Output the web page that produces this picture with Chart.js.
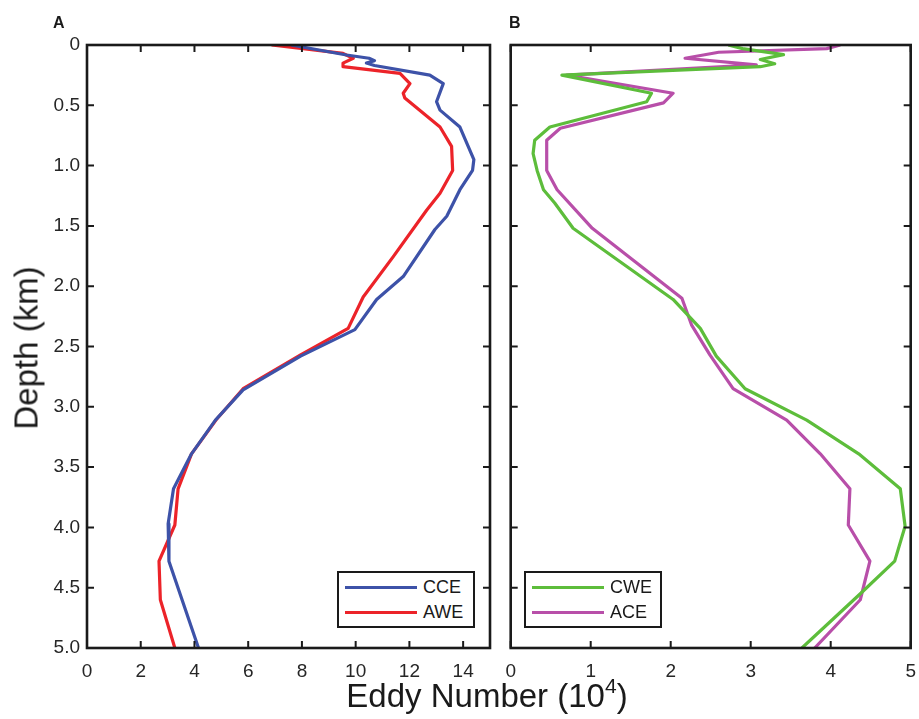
<!DOCTYPE html>
<html>
<head>
<meta charset="utf-8">
<title>Eddy number vs depth</title>
<script src="https://cdn.jsdelivr.net/npm/chart.js@4.4.1/dist/chart.umd.min.js"></script>
<style>
  html, body { margin: 0; padding: 0; background: #fff; }
  #wrap {
    position: relative; width: 919px; height: 719px; overflow: hidden;
    font-family: "Liberation Sans", Arial, sans-serif; color: #1a1a1a;
  }
  canvas { position: absolute; top: 0; }
  #chartA { left: 0; }
  #chartB { left: 500px; }
  .tag { position: absolute; top: 15px; font-size: 16px; font-weight: bold; line-height: 1; }
  .title { position: absolute; font-size: 33px; line-height: 1; white-space: nowrap; }
  .title sup { font-size: 21px; vertical-align: 0; position: relative; top: -14px; }
  #ytitle { left: 26px; top: 348px; transform: translate(-50%, -50%) rotate(-90deg); }
  #xtitle { left: 487px; top: 679px; transform: translateX(-50%); }
  .legend {
    position: absolute; top: 571px; width: 138px; height: 57px;
    box-sizing: border-box; border: 2px solid #1a1a1a; background: #fff;
  }
  .legend .row {
    position: absolute; left: 6px; height: 20px; display: flex; align-items: center;
    font-size: 18px; line-height: 1;
  }
  .legend .swatch { display: inline-block; width: 72px; height: 3px; margin-right: 6px; }
</style>
</head>
<body>
<div id="wrap">
  <canvas id="chartA" width="500" height="719"></canvas>
  <canvas id="chartB" width="419" height="719"></canvas>
  <div class="tag" style="left:53px">A</div>
  <div class="tag" style="left:509px">B</div>
  <div class="title" id="ytitle">Depth (km)</div>
  <div class="title" id="xtitle">Eddy Number (10<sup>4</sup>)</div>
  <div class="legend" id="legendA" style="left:337px"></div>
  <div class="legend" id="legendB" style="left:524px"></div>
</div>

<script>
// Eddy number (10^4) against depth (km)

// Panel A
const cceDepth = [0, 0.083, 0.11, 0.13, 0.15, 0.17, 0.25, 0.32, 0.47, 0.54, 0.68, 0.95, 1.04, 1.2, 1.42, 1.53, 1.92, 2.11, 2.36, 2.58, 2.86, 3.11, 3.39, 3.68, 3.97, 4.28, 5.0];
const cceNum   = [7.6, 9.66, 10.5, 10.7, 10.4, 10.7, 12.76, 13.26, 13.01, 13.14, 13.88, 14.4, 14.35, 13.88, 13.39, 12.95, 11.77, 10.78, 9.97, 7.95, 5.81, 4.78, 3.89, 3.22, 3.02, 3.05, 4.15];

const aweDepth = [0, 0.07, 0.11, 0.15, 0.18, 0.235, 0.32, 0.40, 0.44, 0.68, 0.84, 1.04, 1.23, 1.37, 1.755, 2.09, 2.35, 2.57, 2.85, 3.11, 3.39, 3.68, 3.98, 4.28, 4.60, 5.0];
const aweNum   = [6.87, 9.53, 9.91, 9.53, 9.53, 11.65, 12.02, 11.77, 11.83, 13.14, 13.57, 13.61, 13.14, 12.64, 11.40, 10.28, 9.72, 7.95, 5.81, 4.80, 3.89, 3.39, 3.27, 2.68, 2.73, 3.27];

// Panel B
const cweDepth = [0, 0.03, 0.08, 0.12, 0.155, 0.18, 0.25, 0.40, 0.47, 0.68, 0.79, 0.90, 1.04, 1.20, 1.31, 1.52, 2.11, 2.35, 2.58, 2.85, 3.11, 3.39, 3.68, 3.99, 4.28, 4.55, 5.0];
const cweNum   = [2.72, 2.9, 3.41, 3.12, 3.30, 3.12, 0.64, 1.76, 1.70, 0.49, 0.30, 0.28, 0.33, 0.41, 0.55, 0.78, 2.03, 2.37, 2.57, 2.93, 3.70, 4.35, 4.87, 4.93, 4.80, 4.37, 3.64];

const aceDepth = [0, 0.03, 0.06, 0.11, 0.165, 0.25, 0.40, 0.48, 0.69, 0.79, 1.04, 1.20, 1.52, 2.10, 2.32, 2.57, 2.85, 3.11, 3.39, 3.68, 3.98, 4.28, 4.60, 5.0];
const aceNum   = [4.12, 3.95, 2.6, 2.18, 3.07, 0.70, 2.03, 1.91, 0.62, 0.45, 0.45, 0.58, 1.02, 2.14, 2.26, 2.49, 2.78, 3.45, 3.87, 4.24, 4.22, 4.49, 4.37, 3.80];

// ticks
const depthTicks = [0, 0.5, 1, 1.5, 2, 2.5, 3, 3.5, 4, 4.5, 5];
const xTicksA = [0, 2, 4, 6, 8, 10, 12, 14];
const xTicksB = [0, 1, 2, 3, 4, 5];

const seriesA = [
    { name: 'CCE', color: '#3d52a8', depth: cceDepth, num: cceNum },
    { name: 'AWE', color: '#ec2329', depth: aweDepth, num: aweNum }
];
const seriesB = [
    { name: 'CWE', color: '#5dbd3b', depth: cweDepth, num: cweNum },
    { name: 'ACE', color: '#b84fa9', depth: aceDepth, num: aceNum }
];

const FONT = '"Liberation Sans", Arial, sans-serif';
const INK = '#1a1a1a';

// box around the axes with inward ticks on all four sides
const framePlugin = {
    id: 'frame',
    afterDatasetsDraw(chart) {
        const { ctx, chartArea: a, scales } = chart;
        const len = 7;
        ctx.save();
        ctx.strokeStyle = INK;
        ctx.lineWidth = 2;
        ctx.beginPath();
        scales.x.ticks.forEach(t => {
            const px = scales.x.getPixelForValue(t.value);
            ctx.moveTo(px, a.top); ctx.lineTo(px, a.top + len);
            ctx.moveTo(px, a.bottom); ctx.lineTo(px, a.bottom - len);
        });
        scales.y.ticks.forEach(t => {
            const py = scales.y.getPixelForValue(t.value);
            ctx.moveTo(a.left, py); ctx.lineTo(a.left + len, py);
            ctx.moveTo(a.right, py); ctx.lineTo(a.right - len, py);
        });
        ctx.stroke();
        ctx.lineWidth = 2.6;
        ctx.strokeRect(a.left, a.top, a.right - a.left, a.bottom - a.top);
        ctx.restore();
    }
};

function makeChart(id, series, xMax, xTicks, opts) {
    const datasets = series.map(s => ({
        label: s.name,
        data: s.depth.map((d, i) => ({ x: s.num[i], y: d })),
        showLine: true,
        borderColor: s.color,
        backgroundColor: s.color,
        borderWidth: 3.2,
        borderJoinStyle: 'round',
        pointRadius: 0,
        tension: 0
    }));

    return new Chart(document.getElementById(id), {
        type: 'scatter',
        data: { datasets },
        options: {
            responsive: false,
            animation: false,
            layout: { padding: { top: 45, right: opts.padRight, left: 0, bottom: 0 } },
            plugins: { legend: { display: false }, tooltip: { enabled: false } },
            scales: {
                x: {
                    type: 'linear', min: 0, max: xMax,
                    afterBuildTicks: sc => { sc.ticks = xTicks.map(v => ({ value: v })); },
                    afterFit: sc => {
                        sc.height = 71;
                        // labels at the edges may hang outside; keep the plot box fixed
                        sc.paddingLeft = 0;
                        sc.paddingRight = 0;
                    },
                    grid: { display: false, drawTicks: false },
                    border: { display: false },
                    ticks: { color: '#262626', padding: 12, maxRotation: 0, font: { family: FONT, size: 19 } }
                },
                y: {
                    type: 'linear', min: 0, max: 5, reverse: true,
                    afterBuildTicks: sc => { sc.ticks = depthTicks.map(v => ({ value: v })); },
                    afterFit: sc => {
                        sc.width = opts.leftWidth;
                        sc.paddingTop = 0;
                        sc.paddingBottom = 0;
                    },
                    grid: { display: false, drawTicks: false },
                    border: { display: false },
                    ticks: {
                        display: opts.yLabels,
                        color: '#262626', padding: 7,
                        font: { family: FONT, size: 19 },
                        callback: v => v === 0 ? '0' : v.toFixed(1)
                    }
                }
            }
        },
        plugins: [framePlugin]
    });
}

function buildLegend(id, series) {
    const box = document.getElementById(id);
    series.forEach((s, i) => {
        const row = document.createElement('div');
        row.className = 'row';
        row.style.top = (i === 0 ? 4 : 29) + 'px';
        row.innerHTML = `<span class="swatch" style="background:${s.color}"></span>${s.name}`;
        box.appendChild(row);
    });
}

makeChart('chartA', seriesA, 15, xTicksA, { padRight: 10, leftWidth: 87, yLabels: true });
makeChart('chartB', seriesB, 5, xTicksB, { padRight: 8.3, leftWidth: 10.7, yLabels: false });
buildLegend('legendA', seriesA);
buildLegend('legendB', seriesB);
</script>
</body>
</html>
